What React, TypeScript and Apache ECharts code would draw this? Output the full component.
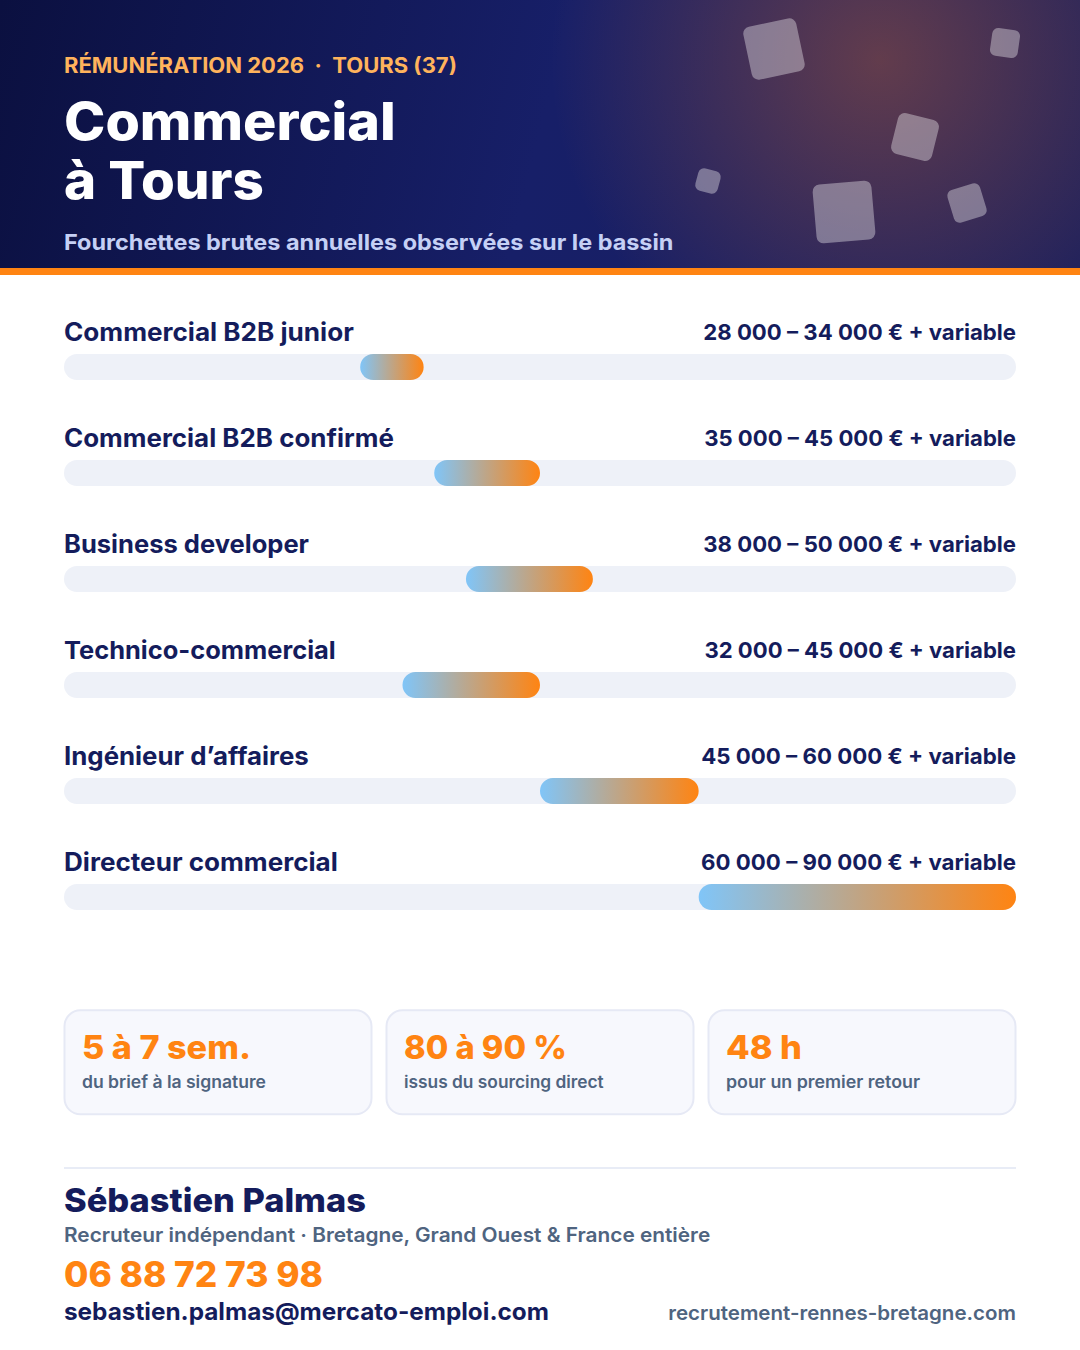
import { useEffect, useRef } from "react"
import * as echarts from "echarts"

const roles = [
  "Commercial B2B junior",
  "Commercial B2B confirmé",
  "Business developer",
  "Technico-commercial",
  "Ingénieur d’affaires",
  "Directeur commercial",
]
const lows = [28000, 35000, 38000, 32000, 45000, 60000]
const highs = [34000, 45000, 50000, 45000, 60000, 90000]
const rangeLabels = [
  "28 000 – 34 000 € + variable",
  "35 000 – 45 000 € + variable",
  "38 000 – 50 000 € + variable",
  "32 000 – 45 000 € + variable",
  "45 000 – 60 000 € + variable",
  "60 000 – 90 000 € + variable",
]
const axisMax = 90000

const statValues = ["5 à 7 sem.", "80 à 90 %", "48 h"]
const statLabels = ["du brief à la signature", "issus du sourcing direct", "pour un premier retour"]

const NAVY = "#141c5c"
const ORANGE = "#ff8412"
const SLATE = "#4f6480"
const FONT = "Inter"

// the reference font is wider than anything installed, so each text is stretched to its measured width
const measureCanvas = document.createElement("canvas").getContext("2d")
function fitText(text: string, x: number, y: number, width: number, size: number, weight: number, fill: string, align = "left") {
  measureCanvas!.font = `${weight} ${size}px ${FONT}`
  const natural = measureCanvas!.measureText(text).width
  return {
    type: "text",
    x,
    y,
    scaleX: width / natural,
    silent: true,
    style: { text, fill, fontFamily: FONT, fontSize: size, fontWeight: weight, align, verticalAlign: "bottom", lineHeight: size },
  }
}

// base is the baseline, verticalAlign bottom puts it a little under it
const label = (text: string, x: number, base: number, width: number, size: number, weight: number, fill: string, align = "left") =>
  fitText(text, x, base + size * 0.14, width, size, weight, fill, align)

function square(cx: number, cy: number, size: number, degrees: number) {
  return {
    type: "rect",
    x: cx,
    y: cy,
    rotation: (degrees * Math.PI) / 180,
    silent: true,
    shape: { x: -size / 2, y: -size / 2, width: size, height: size, r: size > 40 ? 7 : 6 },
    style: { fill: "rgba(255,255,255,0.36)" },
  }
}

function card(x: number) {
  return {
    type: "rect",
    silent: true,
    shape: { x: x + 0.5, y: 1010.3, width: 307, height: 104, r: 16 },
    style: { fill: "#f7f8fd", stroke: "#e6e9f5", lineWidth: 2 },
  }
}

export default function App() {
  const chartRef = useRef<HTMLDivElement>(null)

  useEffect(() => {
    document.body.style.margin = "0"
    if (!chartRef.current) return
    const chart = echarts.init(chartRef.current, null, { renderer: "svg" })

    const nameWidths = [290, 330, 245, 272, 245, 274]
    const rangeWidths = [313, 312, 313, 312, 315, 315]
    const statValueWidths = [169, 163, 76]
    const statLabelWidths = [184, 200, 194]
    const statX = [64, 386, 708]

    const elements: any[] = [
      {
        type: "rect",
        silent: true,
        shape: { x: 0, y: 0, width: 1080, height: 268 },
        style: {
          fill: new echarts.graphic.LinearGradient(0, 0, 1080, 268, [
            { offset: 0, color: "#0b1040" },
            { offset: 0.5, color: "#171f68" },
            { offset: 1, color: "#1a1f5e" },
          ], true),
        },
      },
      {
        type: "rect",
        silent: true,
        shape: { x: 0, y: 0, width: 1080, height: 268 },
        style: {
          fill: new echarts.graphic.RadialGradient(880, 60, 330, [
            { offset: 0, color: "rgba(255,122,30,0.32)" },
            { offset: 1, color: "rgba(255,122,30,0)" },
          ], true),
        },
      },
      square(774, 49, 54, 12),
      square(1005, 43, 28, -8),
      square(915, 137, 42, -14),
      square(708, 181, 23, -15),
      square(844, 212, 59, 5),
      square(967, 203, 34, 17),
      { type: "rect", silent: true, shape: { x: 0, y: 268, width: 1080, height: 7 }, style: { fill: ORANGE } },
      label("RÉMUNÉRATION 2026  ·  TOURS (37)", 64, 73, 393, 21, 700, "#ffb35c"),
      label("Commercial", 64, 140, 332, 52, 800, "#ffffff"),
      label("à Tours", 64, 198.5, 200, 52, 800, "#ffffff"),
      label("Fourchettes brutes annuelles observées sur le bassin", 64, 250, 610, 22, 700, "#c5d0f5"),
      { type: "line", silent: true, shape: { x1: 64, y1: 1168, x2: 1016, y2: 1168 }, style: { stroke: "#e8ecf6", lineWidth: 2 } },
      label("Sébastien Palmas", 64, 1212, 302, 33, 800, NAVY),
      label("Recruteur indépendant · Bretagne, Grand Ouest & France entière", 64, 1242, 647, 20, 600, SLATE),
      label("06 88 72 73 98", 64, 1287, 259, 35, 800, ORANGE),
      label("sebastien.palmas@mercato-emploi.com", 64, 1320, 485, 24, 700, NAVY),
      label("recrutement-rennes-bretagne.com", 1016, 1320, 348, 20, 600, SLATE, "right"),
    ]

    roles.forEach((role, i) => {
      elements.push(label(role, 64, 341 + i * 106, nameWidths[i], 25, 700, NAVY))
      elements.push(label(rangeLabels[i], 1016, 340 + i * 106, rangeWidths[i], 22, 700, NAVY, "right"))
    })
    statValues.forEach((value, i) => {
      elements.push(card(statX[i]))
      elements.push(label(value, statX[i] + 18, 1059, statValueWidths[i], 33, 800, ORANGE))
      elements.push(label(statLabels[i], statX[i] + 18, 1088, statLabelWidths[i], 17, 600, SLATE))
    })

    chart.setOption({
      animation: false,
      backgroundColor: "#ffffff",
      grid: { left: 64, right: 64, top: 314, height: 636 },
      xAxis: { type: "value", min: 0, max: axisMax, show: false },
      yAxis: { type: "category", data: roles, inverse: true, show: false },
      graphic: { elements },
      series: [
        {
          name: "Échelle",
          type: "bar",
          barWidth: 26,
          barGap: "-100%",
          data: roles.map(() => axisMax),
          silent: true,
          itemStyle: { color: "#eef1f8", borderRadius: 13 },
        },
        {
          name: "Minimum",
          type: "bar",
          stack: "range",
          barWidth: 26,
          data: lows,
          silent: true,
          itemStyle: { color: "transparent" },
        },
        {
          name: "Fourchette",
          type: "bar",
          stack: "range",
          barWidth: 26,
          data: highs.map((high, i) => high - lows[i]),
          silent: true,
          itemStyle: {
            borderRadius: 13,
            color: new echarts.graphic.LinearGradient(0, 0, 1, 0, [
              { offset: 0, color: "#80c5f8" },
              { offset: 1, color: "#ff8412" },
            ]),
          },
        },
      ],
    })

    return () => {
      chart.dispose()
    }
  }, [])

  return <div ref={chartRef} style={{ width: 1080, height: 1350 }} />
}
